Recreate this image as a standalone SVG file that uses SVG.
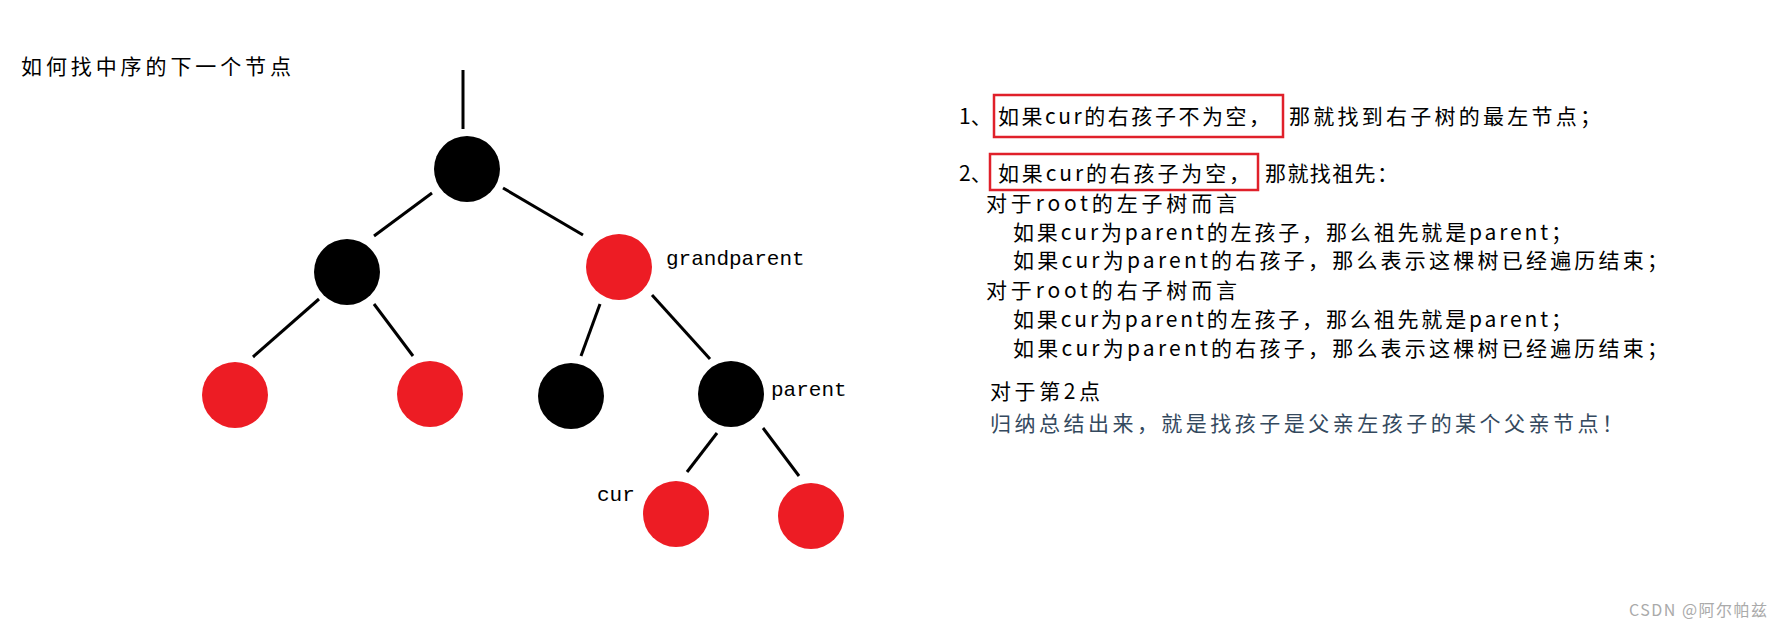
<svg xmlns="http://www.w3.org/2000/svg" width="1775" height="626" viewBox="0 0 1775 626">
<style>
.t{font-family:"Noto Sans CJK SC","Liberation Serif",serif;font-size:21px;fill:#000}
.m{font-family:"Liberation Mono","Noto Sans CJK SC",monospace;font-size:21px;fill:#000}
.b{fill:#000}.r{fill:#ed1c24}
.e{stroke:#000;stroke-width:3;fill:none}
.box{fill:none;stroke:#e0202a;stroke-width:2.5}
</style>
<rect width="1775" height="626" fill="#fff"/>
<text class="t" x="21" y="74" textLength="270">如何找中序的下一个节点</text>
<g id="connectors">
<line class="e" x1="463" y1="70" x2="463" y2="129"/>
<line class="e" x1="432" y1="193" x2="374" y2="236"/>
<line class="e" x1="503" y1="188" x2="583" y2="235"/>
<line class="e" x1="319" y1="299" x2="253" y2="357"/>
<line class="e" x1="374" y1="304" x2="413" y2="356"/>
<line class="e" x1="600" y1="304" x2="581" y2="356"/>
<line class="e" x1="652" y1="295" x2="710" y2="359"/>
<line class="e" x1="717" y1="433" x2="687" y2="472"/>
<line class="e" x1="763" y1="428" x2="799" y2="476"/>
</g>
<g id="root"><ellipse class="b" cx="467" cy="169" rx="33" ry="33"/></g>
<g id="left"><ellipse class="b" cx="347" cy="272" rx="33" ry="33"/></g>
<g id="grandparent"><ellipse class="r" cx="619" cy="267" rx="33" ry="33"/><text class="m" x="666" y="265">grandparent</text></g>
<g id="ll"><ellipse class="r" cx="235" cy="395" rx="33" ry="33"/></g>
<g id="lr"><ellipse class="r" cx="430" cy="394" rx="33" ry="33"/></g>
<g id="rl"><ellipse class="b" cx="571" cy="396" rx="33" ry="33"/></g>
<g id="parent"><ellipse class="b" cx="731" cy="394" rx="33" ry="33"/><text class="m" x="771" y="396">parent</text></g>
<g id="cur"><ellipse class="r" cx="676" cy="514" rx="33" ry="33"/><text class="m" x="597" y="501">cur</text></g>
<g id="rr"><ellipse class="r" cx="811" cy="516" rx="33" ry="33"/></g>
<g id="notes">
<rect class="box" x="994" y="95" width="289" height="42"/>
<rect class="box" x="990" y="154" width="268" height="36"/>
<text class="t" x="959" y="124">1、</text>
<text class="t" x="998" y="124" textLength="272">如果cur的右孩子不为空，</text>
<text class="t" x="1289" y="124" textLength="312">那就找到右子树的最左节点；</text>
<text class="t" x="959" y="181">2、</text>
<text class="t" x="998" y="181" textLength="252">如果cur的右孩子为空，</text>
<text class="t" x="1265" y="181" textLength="133">那就找祖先：</text>
<text class="t" x="986" y="211" textLength="251">对于root的左子树而言</text>
<text class="t" x="1013" y="240" textLength="559">如果cur为parent的左孩子，那么祖先就是parent；</text>
<text class="t" x="1013" y="268" textLength="655">如果cur为parent的右孩子，那么表示这棵树已经遍历结束；</text>
<text class="t" x="986" y="298" textLength="251">对于root的右子树而言</text>
<text class="t" x="1013" y="327" textLength="559">如果cur为parent的左孩子，那么祖先就是parent；</text>
<text class="t" x="1013" y="356" textLength="655">如果cur为parent的右孩子，那么表示这棵树已经遍历结束；</text>
<text class="t" x="990" y="399" textLength="110">对于第2点</text>
<text class="t" x="990" y="431" textLength="633" style="fill:#34495e">归纳总结出来，就是找孩子是父亲左孩子的某个父亲节点！</text>
</g>
<text x="1629" y="616" style="font-family:'Noto Sans CJK SC','Liberation Sans',sans-serif;font-size:16px;fill:#aaa" textLength="138">CSDN @阿尔帕兹</text>
</svg>
